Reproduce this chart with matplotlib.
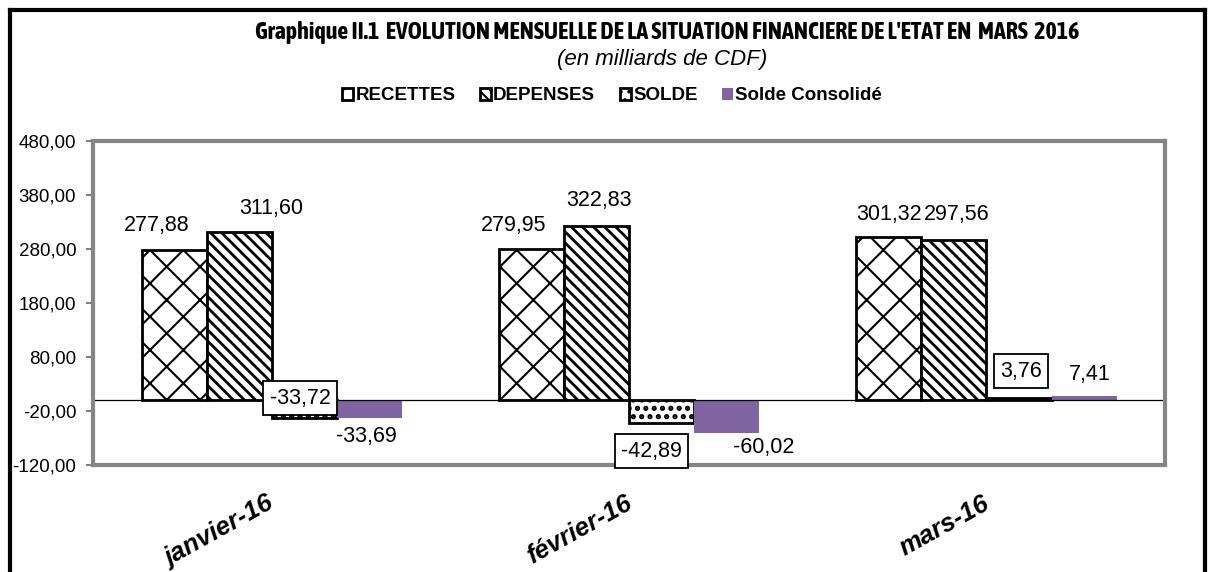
import numpy as np
import matplotlib.pyplot as plt
from matplotlib import font_manager
from matplotlib.lines import Line2D
from matplotlib.patches import Patch
from matplotlib.transforms import ScaledTranslation

# Values (milliards de CDF)
months = ['janvier-16', 'février-16', 'mars-16']
recettes = [277.88, 279.95, 301.32]
depenses = [311.60, 322.83, 297.56]
solde = [-33.72, -42.89, 3.76]
solde_consolide = [-33.69, -60.02, 7.41]
series_names = ['RECETTES', 'DEPENSES', 'SOLDE', 'Solde Consolidé']
y_ticks = [-120, -20, 80, 180, 280, 380, 480]

title = "Graphique II.1  EVOLUTION MENSUELLE DE LA SITUATION FINANCIERE DE L'ETAT EN  MARS  2016"
subtitle = "(en milliards de CDF)"


def fr(v):
    return f'{v:.2f}'.replace('.', ',')


plt.rcParams['font.family'] = ['Liberation Sans', 'DejaVu Sans']
plt.rcParams['hatch.linewidth'] = 1.5


def weight_num(wt):
    if isinstance(wt, (int, float)):
        return wt
    return font_manager.weight_dict.get(wt, 400)


# bold narrow font for the title if one is installed
fonts = font_manager.fontManager.ttflist
bold_narrow = sorted({f.name for f in fonts
                      if ('Narrow' in f.name or 'Condensed' in f.name)
                      and weight_num(f.weight) >= 600})
if 'Liberation Sans Narrow' in bold_narrow:
    title_font, title_size = 'Liberation Sans Narrow', 15
elif bold_narrow:
    title_font, title_size = bold_narrow[0], 17.2
else:
    title_font, title_size = 'Liberation Sans', 12.7

fig = plt.figure(figsize=(12.15, 5.72), dpi=100)
ax = fig.add_axes([0.0765, 0.187, 0.8825, 0.5665])

x = np.arange(len(months))
w = 0.182
series = [recettes, depenses, solde, solde_consolide]
styles = [
    dict(facecolor='white', edgecolor='black', hatch='x', linewidth=2),
    dict(facecolor='white', edgecolor='black', hatch='\\\\\\', linewidth=2),
    dict(facecolor='white', edgecolor='black', hatch='..', linewidth=2),
    dict(facecolor='#8064A2', edgecolor='#8064A2', linewidth=0),
]
hatch_lw = [1.5, 2.0, 2.5, 1.0]

# label offsets in pixels from the bar end (manual placement like the original)
offsets = [
    [(-17, 25), (-18, 24), (0, 23)],
    [(32, 23), (2, 25), (3, 25)],
    [(-4, 20), (-10, -28), (2, 27)],
    [(-3, -18), (37, -15), (6, 22)],
]

for i, (vals, st) in enumerate(zip(series, styles)):
    xpos = x + (i - 1.5) * w
    bars = ax.bar(xpos, vals, w, label=series_names[i], **st)
    for b in bars:
        if hasattr(b, 'set_hatch_linewidth'):
            b.set_hatch_linewidth(hatch_lw[i])
    for j, v in enumerate(vals):
        box = None
        if i == 2:
            box = dict(boxstyle='square,pad=0.3', fc='white', ec='black', lw=1.3)
        ax.annotate(fr(v), xy=(xpos[j], v), xytext=offsets[i][j],
                    textcoords='offset pixels', ha='center', va='center',
                    fontsize=15.5, bbox=box, zorder=5)

ax.axhline(0, color='black', lw=0.9)

ax.set_xlim(-0.5, len(months) - 0.5)
ax.set_ylim(-120, 480)
ax.set_yticks(y_ticks)
ax.set_yticklabels([fr(t) for t in y_ticks], fontsize=13.5)
ax.tick_params(axis='y', direction='out', length=5, color='#808080', width=1.5, pad=7)
ax.set_xticks(x)
ax.set_xticklabels(months, rotation=29, ha='right', rotation_mode='anchor',
                   fontsize=18.5, fontweight='bold', fontstyle='italic')
ax.tick_params(axis='x', length=0, pad=19)
shift = ScaledTranslation(-5 / 100, 0, fig.dpi_scale_trans)
for lbl in ax.get_xticklabels():
    lbl.set_transform(lbl.get_transform() + shift)
for sp in ax.spines.values():
    sp.set_color('#858585')
    sp.set_linewidth(3)

handles = [Patch(**st) for st in styles]
for h, lw in zip(handles, hatch_lw):
    if hasattr(h, 'set_hatch_linewidth'):
        h.set_hatch_linewidth(min(lw, 1.2))
fig.legend(handles, series_names, loc='center', bbox_to_anchor=(612 / 1215, 1 - 96 / 572),
           ncol=4, frameon=False, prop=dict(weight='bold', size=13.5),
           handlelength=0.6, handleheight=0.6, handletextpad=0.12, columnspacing=1.3)

fig.text(667 / 1215, 1 - 32 / 572, title, ha='center', va='center',
         fontsize=title_size, fontweight='bold', family=title_font)
fig.text(662 / 1215, 1 - 59 / 572, subtitle, ha='center', va='center',
         fontsize=16, fontstyle='italic')

# thick outer frame (left, top, right)
for xs, ys in [([10 / 1215, 10 / 1215], [0, 1 - 10 / 572]),
               ([10 / 1215, 1205 / 1215], [1 - 10 / 572, 1 - 10 / 572]),
               ([1205 / 1215, 1205 / 1215], [1 - 10 / 572, 0])]:
    fig.add_artist(Line2D(xs, ys, color='black', lw=3, transform=fig.transFigure))

fig.savefig('out.png', dpi=100)
plt.close()
